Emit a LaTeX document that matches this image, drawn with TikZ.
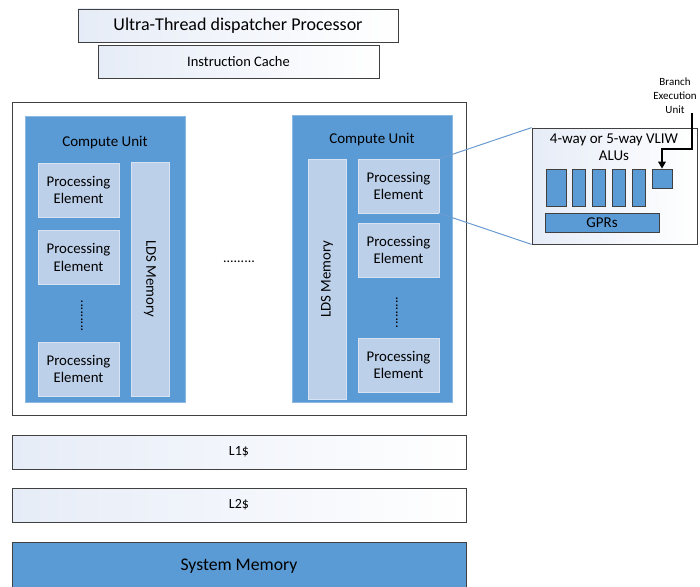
\documentclass[tikz,border=0pt]{standalone}
\usepackage{fontspec}
\setmainfont{Carlito}
\usetikzlibrary{arrows.meta,positioning,calc}

\definecolor{cublue}{HTML}{5B9BD5}
\definecolor{pefill}{HTML}{BDD0EA}
\definecolor{boxedge}{HTML}{404040}
\definecolor{linkblue}{HTML}{6A9BD1}
\definecolor{shadeblue}{HTML}{E6ECF7}

\begin{document}
\begin{tikzpicture}[
  x=1pt, y=-1pt,
  lightbox/.style={rectangle, draw=boxedge, line width=0.8pt, left color=shadeblue, right color=white, inner sep=0pt},
  cubox/.style={rectangle, fill=cublue, draw=cublue!70!white, line width=0.7pt, inner sep=0pt},
  pebox/.style={rectangle, fill=pefill, draw=pefill!60!white, line width=0.5pt, inner sep=0pt, minimum width=81, minimum height=54, align=center, font=\fontsize{14.8}{17.5}\selectfont},
  ldsbox/.style={pebox, minimum height=38},
  alubox/.style={rectangle, fill=cublue, draw=boxedge, line width=0.7pt, inner sep=0pt},
  dotrow/.style={inner sep=0pt, font=\fontsize{14}{16}\selectfont},
  link/.style={draw=linkblue, line width=1pt},
  brarrow/.style={line width=1.7pt, -{Triangle[length=7pt,width=7.5pt]}}
]
  \useasboundingbox (0,0) rectangle (700,586);

  % dispatcher and cache on top
  \node[lightbox, minimum width=320, minimum height=33, font=\fontsize{18}{21}\selectfont] (disp) at (238,25.5) {Ultra-Thread dispatcher Processor};
  \node[lightbox, minimum width=281, minimum height=33, font=\fontsize{14.5}{17}\selectfont] (icache) at (238.5,62) {Instruction Cache};

  % frame holding the compute units
  \node[rectangle, draw=boxedge, fill=white, line width=0.8pt, minimum width=454, minimum height=313] (frame) at (239,258.5) {};

  % left compute unit
  \node[cubox, minimum width=160, minimum height=286] (cuL) at (105,259) {};
  \node[font=\fontsize{15}{18}\selectfont] (cuLlab) at (105,143) {Compute Unit};
  \node[pebox] (peL1) at (78.5,190) {Processing\\Element};
  \node[pebox] (peL2) at (78.5,257.5) {Processing\\Element};
  \node[dotrow, rotate=90] (dotsL) at (82,316) {.........};
  \node[pebox] (peL3) at (78.5,369) {Processing\\Element};
  \node[ldsbox, minimum width=234, rotate=-90] (ldsL) at (150,279) {LDS Memory};

  % dots between the units
  \node[dotrow] (dotsM) at (239,262) {.........};

  % right compute unit
  \node[cubox, minimum width=160, minimum height=287] (cuR) at (372,258.5) {};
  \node[font=\fontsize{15}{18}\selectfont] (cuRlab) at (372,140) {Compute Unit};
  \node[ldsbox, minimum width=240, rotate=90] (ldsR) at (327,279) {LDS Memory};
  \node[pebox] (peR1) at (398.5,186) {Processing\\Element};
  \node[pebox] (peR2) at (398.5,250) {Processing\\Element};
  \node[dotrow, rotate=90] (dotsR) at (397,312.5) {.........};
  \node[pebox] (peR3) at (398.5,365) {Processing\\Element};

  % inside of one processing element
  \node[lightbox, minimum width=165, minimum height=116] (pezoom) at (614.5,186) {};
  \node[align=center, font=\fontsize{15}{17}\selectfont] (vliw) at (614,147.5) {4-way or 5-way VLIW\\ALUs};
  \node[alubox, minimum width=20, minimum height=37] (alu1) at (556,187.5) {};
  \foreach \i/\xc in {2/578.5, 3/598.5, 4/618.5, 5/638.5}
    \node[alubox, minimum width=13, minimum height=37] (alu\i) at (\xc,187.5) {};
  \node[alubox, minimum width=20, minimum height=19] (bru) at (662,178.5) {};
  \node[alubox, minimum width=114, minimum height=19, font=\fontsize{15}{17}\selectfont] (gprs) at (602,222.5) {GPRs};

  \node[align=center, font=\fontsize{11}{14}\selectfont] (brlab) at (675,96) {Branch\\Execution\\Unit};
  \coordinate (brtail) at (692,113);
  \coordinate (brbend) at (692,149);
  \draw[brarrow] (brtail) -- (brbend) -| (bru.north);

  \draw[link] (peR1.north east) -- (pezoom.north west);
  \draw[link] (peR1.south east) -- (pezoom.south west);

  % memory hierarchy
  \node[lightbox, minimum width=454, minimum height=34, font=\fontsize{14}{16}\selectfont] (l1) at (239,452) {L1\$};
  \node[lightbox, minimum width=454, minimum height=34, font=\fontsize{14}{16}\selectfont] (l2) at (239,505) {L2\$};
  \node[rectangle, fill=cublue, draw=boxedge, line width=0.8pt, minimum width=454, minimum height=50, inner sep=0pt] (sysmem) at (239,567) {};
  \node[font=\fontsize{17.7}{20}\selectfont] (sysmemlab) at (239,566) {System Memory};
\end{tikzpicture}
\end{document}
